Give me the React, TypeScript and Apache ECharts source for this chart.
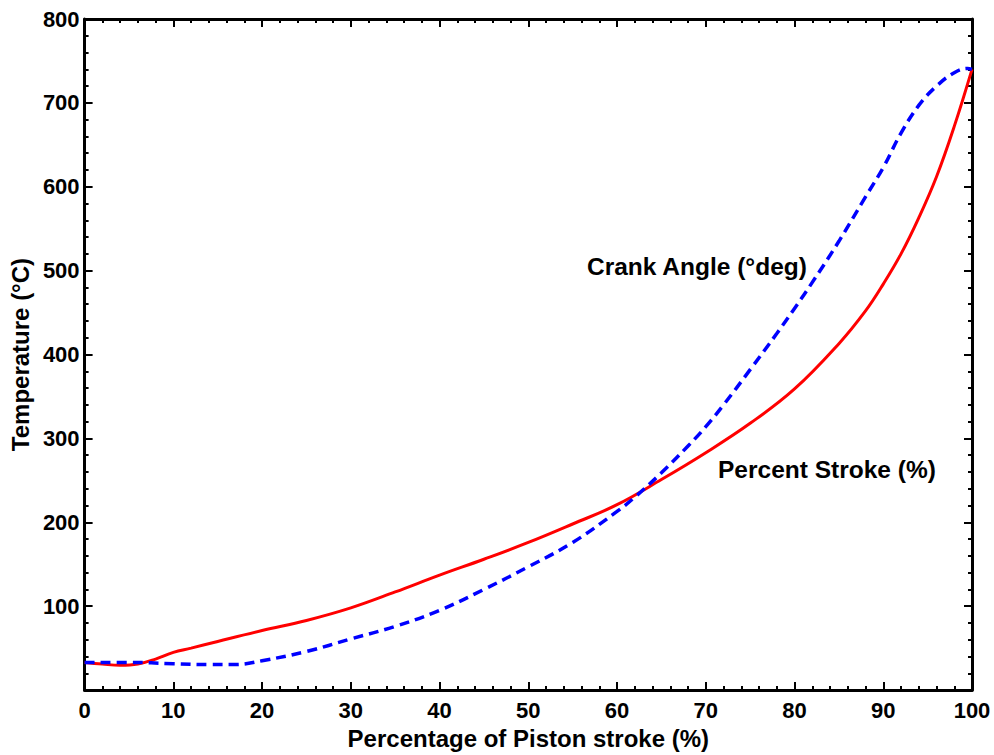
import React, { useEffect, useRef } from "react";
import * as echarts from "echarts";

// Percent Stroke (%) curve — red solid
const strokeX = [0, 2, 4, 6, 8, 10, 12, 15, 20, 25, 30, 35, 40, 45, 50, 55, 60, 65, 70, 75, 80, 85, 88, 90, 92, 94, 96, 98, 100];
const strokeT = [33, 31, 29.5, 31, 37, 45, 50, 58, 71, 83, 98, 117, 137, 156, 176, 198, 221, 251, 283, 318, 359, 413, 452, 484, 520, 563, 612, 672, 740];

// Crank Angle (°deg) curve — blue dashed
const crankX = [0, 5, 10, 14, 17, 20, 25, 30, 35, 40, 45, 50, 55, 60, 62, 65, 68, 70, 72, 75, 78, 80, 82, 85, 88, 90, 92, 94, 96, 98, 99.5, 100];
const crankT = [33, 33, 31.5, 30.5, 30.5, 35, 46, 61, 76, 95, 120, 147, 176, 213, 230, 259, 291, 314, 340, 382, 425, 455, 486, 535, 588, 623, 664, 697, 720, 736, 741, 740];

const xTicks = { min: 0, max: 100, interval: 10 };
const yTicks = { min: 0, max: 800, interval: 100 };

const FONT = 'Arial, "Liberation Sans", sans-serif';

export default function App() {
  const ref = useRef<HTMLDivElement>(null);
  useEffect(() => {
    if (!ref.current) return;
    const chart = echarts.init(ref.current, null, { renderer: "svg" });
    const axisCommon = {
      axisLine: { show: true, onZero: false, lineStyle: { color: "#000", width: 3 } },
      axisTick: { show: true, inside: true, length: 8, lineStyle: { color: "#000", width: 2 } },
      minorTick: { show: true, splitNumber: 5, length: 4, lineStyle: { color: "#000", width: 2 } },
      splitLine: { show: false },
    };
    chart.setOption({
      animation: false,
      backgroundColor: "#fff",
      grid: { left: 81, right: 22, top: 19, bottom: 53, containLabel: false },
      xAxis: [
        {
          type: "value",
          ...xTicks,
          position: "bottom",
          ...axisCommon,
          name: "Percentage of Piston stroke (%)",
          nameLocation: "middle",
          nameGap: 30,
          nameTextStyle: { fontFamily: FONT, fontWeight: "bold", fontSize: 24, color: "#000" },
          axisLabel: { fontFamily: FONT, fontWeight: "bold", fontSize: 22, color: "#000", margin: 9 },
        },
        {
          type: "value",
          ...xTicks,
          position: "top",
          ...axisCommon,
          axisLabel: { show: false },
        },
      ],
      yAxis: [
        {
          type: "value",
          ...yTicks,
          position: "left",
          ...axisCommon,
          name: "Temperature (°C)",
          nameLocation: "middle",
          nameGap: 50,
          nameTextStyle: { fontFamily: FONT, fontWeight: "bold", fontSize: 24, color: "#000" },
          axisLabel: {
            fontFamily: FONT,
            fontWeight: "bold",
            fontSize: 22,
            color: "#000",
            margin: 5,
            formatter: (v: number) => (v === 0 ? "" : String(v)),
          },
        },
        {
          type: "value",
          ...yTicks,
          position: "right",
          ...axisCommon,
          axisLabel: { show: false },
        },
      ],
      series: [
        {
          name: "Percent Stroke (%)",
          type: "line",
          data: strokeX.map((x, i) => [x, strokeT[i]]),
          smooth: 0.4,
          showSymbol: false,
          symbol: "none",
          lineStyle: { color: "#ff0000", width: 3 },
          z: 2,
        },
        {
          name: "Crank Angle (°deg)",
          type: "line",
          data: crankX.map((x, i) => [x, crankT[i]]),
          smooth: 0.4,
          showSymbol: false,
          symbol: "none",
          lineStyle: { color: "#0000ff", width: 3.5, type: [10, 6] },
          z: 3,
        },
      ],
      graphic: [
        {
          type: "text",
          left: 587,
          top: 254,
          style: { text: "Crank Angle (°deg)", font: `bold 24.5px ${FONT}`, fill: "#000" },
        },
        {
          type: "text",
          left: 718,
          top: 457,
          style: { text: "Percent Stroke (%)", font: `bold 24.5px ${FONT}`, fill: "#000" },
        },
      ],
    });
    return () => chart.dispose();
  }, []);
  return <div ref={ref} style={{ width: 994, height: 755, position: "absolute", left: 0, top: 0 }} />;
}
